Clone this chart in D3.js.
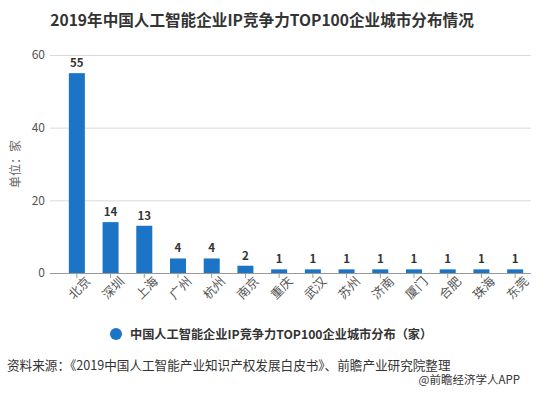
<!DOCTYPE html>
<html lang="zh">
<head>
<meta charset="UTF-8">
<script src="https://d3js.org/d3.v7.min.js"></script>
<style>
  body { margin: 0; background: #fff; }
  text { font-family: "Noto Sans CJK SC", "Noto Sans", sans-serif; }
</style>
</head>
<body>
<svg width="547" height="398" id="svg1"></svg>
<script>
var cities = ["北京", "深圳", "上海", "广州", "杭州", "南京", "重庆", "武汉", "苏州", "济南", "厦门", "合肥", "珠海", "东莞"];
var counts = [55, 14, 13, 4, 4, 2, 1, 1, 1, 1, 1, 1, 1, 1];
var yTicks = [0, 20, 40, 60];

var svg = d3.select("#svg1");
var barColor = "#1b74c5";

var xScale = d3.scaleBand().domain(cities).range([60, 532]),
    yScale = d3.scaleLinear().domain([0, 60]).range([273, 55]);

// title
svg.append("text")
    .attr("x", 262).attr("y", 26)
    .attr("text-anchor", "middle")
    .attr("font-size", "15.6px").attr("font-weight", "bold")
    .attr("fill", "#333")
    .text("2019年中国人工智能企业IP竞争力TOP100企业城市分布情况");

// grid + y axis labels
var yAxis = svg.append("g")
    .attr("transform", "translate(50,0)")
    .call(d3.axisLeft(yScale).tickValues(yTicks).tickSize(-481).tickPadding(5));
yAxis.select(".domain").remove();
yAxis.selectAll(".tick line").attr("stroke", "#d9d9d9");
yAxis.selectAll(".tick text").attr("fill", "#555").attr("font-size", "12px");

svg.append("text")
    .attr("transform", "translate(20,164) rotate(-90)")
    .attr("text-anchor", "middle")
    .attr("font-size", "12px").attr("fill", "#666")
    .text("单位：家");

// bars
var bw = 16;
svg.selectAll(".bar")
    .data(cities)
    .enter().append("rect")
    .attr("class", "bar")
    .attr("x", function (d) { return xScale(d) + xScale.bandwidth() / 2 - bw / 2; })
    .attr("y", function (d, i) { return yScale(counts[i]); })
    .attr("width", bw)
    .attr("height", function (d, i) { return yScale(0) - yScale(counts[i]); })
    .attr("fill", barColor);

svg.selectAll(".val")
    .data(cities)
    .enter().append("text")
    .attr("x", function (d) { return xScale(d) + xScale.bandwidth() / 2; })
    .attr("y", function (d, i) { return yScale(counts[i]) - 6; })
    .attr("text-anchor", "middle")
    .attr("font-size", "11.5px").attr("font-weight", "bold")
    .attr("fill", "#333")
    .text(function (d, i) { return counts[i]; });

// x axis
var xAxis = svg.append("g")
    .attr("transform", "translate(0,273)")
    .call(d3.axisBottom(xScale).tickSize(5).tickSizeOuter(0));
xAxis.select(".domain").attr("d", "M50,0.5H531").attr("stroke", "#999");
xAxis.selectAll(".tick line").attr("stroke", "#999");
xAxis.selectAll(".tick text")
    .attr("fill", "#555").attr("font-size", "12.5px")
    .attr("text-anchor", "end")
    .attr("transform", "rotate(-45)")
    .attr("dx", "0.3em").attr("dy", "0.7em");

// legend
svg.append("circle").attr("cx", 116).attr("cy", 334).attr("r", 6).attr("fill", barColor);
svg.append("text")
    .attr("x", 130).attr("y", 339)
    .attr("font-size", "12.2px").attr("font-weight", "bold")
    .attr("fill", "#333")
    .text("中国人工智能企业IP竞争力TOP100企业城市分布（家）");

// source
svg.append("text")
    .attr("x", 7).attr("y", 370)
    .attr("font-size", "12.6px").attr("fill", "#333")
    .text("资料来源：《2019中国人工智能产业知识产权发展白皮书》、前瞻产业研究院整理");
svg.append("text")
    .attr("x", 520).attr("y", 384)
    .attr("text-anchor", "end")
    .attr("font-size", "11.5px").attr("fill", "#333")
    .text("@前瞻经济学人APP");
</script>
</body>
</html>
